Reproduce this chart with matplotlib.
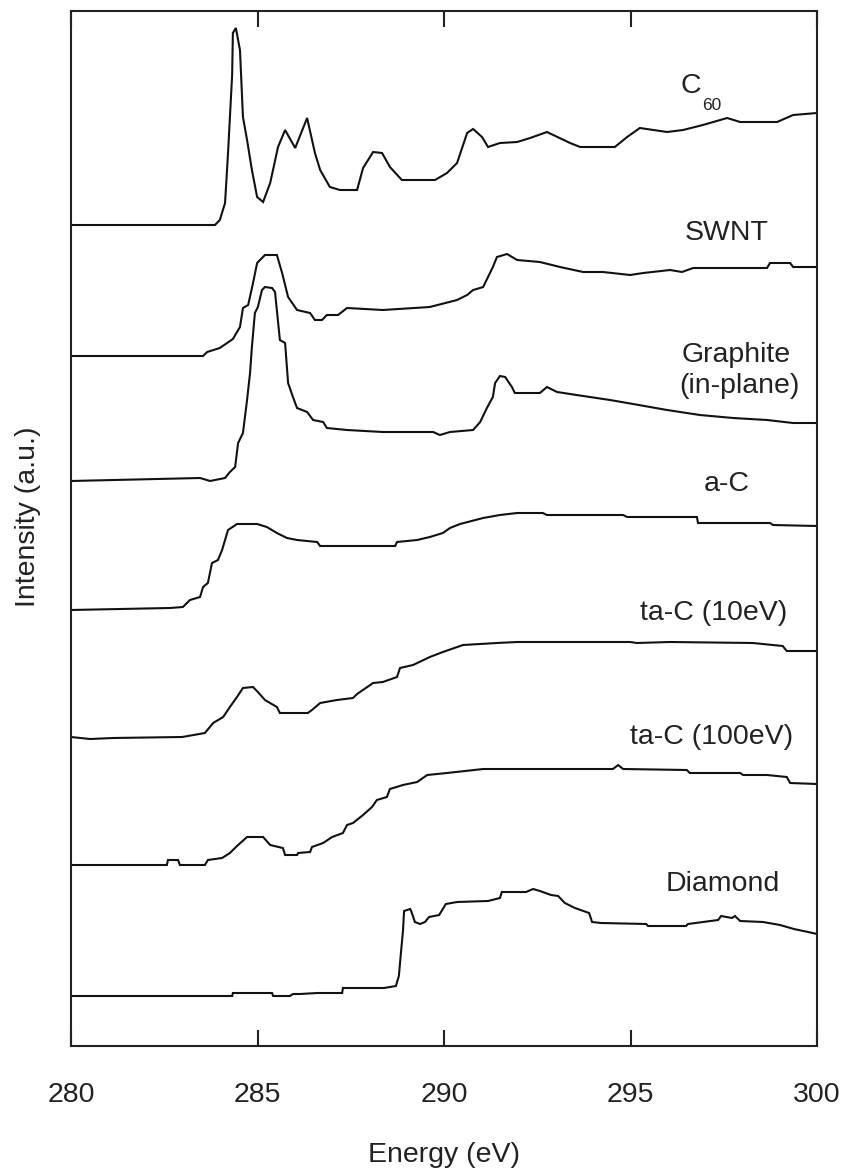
import matplotlib
matplotlib.use("Agg")
import matplotlib.pyplot as plt

plt.rcParams['font.family'] = ['Liberation Sans', 'DejaVu Sans']

# ---------------- data (energy in eV, intensity in a.u.) ----------------
labels = ["C60", "SWNT", "Graphite (in-plane)", "a-C", "ta-C (10eV)", "ta-C (100eV)", "Diamond"]
offsets = [821, 690, 565, 436, 309, 181, 50]

c60_e = [280.00, 283.86, 283.99, 284.13, 284.21, 284.32, 284.34, 284.42, 284.53, 284.61, 284.72,
         284.85, 284.99, 285.15, 285.34, 285.55, 285.74, 286.01, 286.33, 286.54, 286.68, 286.94,
         287.21, 287.67, 287.83, 288.10, 288.34, 288.55, 288.87, 289.76, 290.08, 290.35, 290.62,
         290.78, 291.02, 291.18, 291.50, 291.96, 292.31, 292.76, 293.38, 293.65, 294.58, 294.91,
         295.25, 295.98, 296.41, 296.94, 297.59, 297.94, 298.93, 299.36, 300.00]
c60_i = [0, 0, 5, 22, 72, 150, 192, 197, 175, 108, 85,
         55, 28, 23, 42, 78, 95, 77, 107, 72, 55, 38,
         35, 35, 57, 73, 72, 58, 45, 45, 52, 62, 92,
         96, 88, 78, 82, 83, 87, 93, 82, 78, 78, 88,
         97, 93, 95, 100, 107, 103, 103, 110, 112]

swnt_e = [280.00, 283.54, 283.65, 283.99, 284.34, 284.53, 284.61, 284.75, 284.88, 284.99, 285.20,
          285.52, 285.66, 285.82, 286.06, 286.41, 286.54, 286.73, 286.86, 287.16, 287.40, 288.36,
          289.62, 290.35, 290.62, 290.78, 291.05, 291.18, 291.31, 291.42, 291.69, 291.96, 292.57,
          293.11, 293.73, 294.26, 294.99, 295.34, 296.06, 296.38, 296.68, 298.66, 298.74, 299.28,
          299.36, 300.00]
swnt_i = [0, 0, 4, 8, 17, 29, 48, 51, 73, 93, 101,
          101, 83, 59, 46, 43, 36, 36, 41, 41, 48, 46,
          49, 56, 61, 66, 69, 79, 89, 99, 102, 96, 94,
          89, 84, 84, 81, 83, 86, 84, 88, 88, 93, 93,
          89, 89]

graphite_e = [280.00, 283.46, 283.73, 284.13, 284.26, 284.40, 284.48, 284.61, 284.72, 284.80, 284.85,
              284.93, 285.01, 285.12, 285.20, 285.39, 285.47, 285.60, 285.74, 285.82, 285.95, 286.06,
              286.33, 286.49, 286.76, 286.86, 287.40, 288.36, 289.71, 289.89, 290.16, 290.78, 290.97,
              291.15, 291.31, 291.37, 291.50, 291.64, 291.82, 291.90, 292.57, 292.76, 293.03, 293.73,
              294.45, 295.07, 295.98, 296.86, 297.75, 298.66, 299.36, 300.00]
graphite_i = [0, 3, 0, 3, 9, 14, 38, 48, 81, 108, 134,
              168, 174, 191, 194, 193, 189, 141, 138, 98, 84, 73,
              69, 61, 59, 53, 51, 49, 49, 46, 49, 51, 59,
              73, 84, 98, 105, 104, 94, 88, 88, 94, 89, 85,
              81, 77, 71, 66, 63, 61, 58, 58]

ac_e = [280.00, 282.65, 283.00, 283.19, 283.46, 283.54, 283.67, 283.78, 283.94, 284.05, 284.13,
        284.21, 284.45, 284.99, 285.25, 285.52, 285.79, 286.06, 286.60, 286.68, 288.69, 288.74,
        289.28, 289.62, 289.97, 290.16, 290.43, 291.05, 291.50, 291.96, 292.65, 292.76, 294.80,
        294.91, 296.78, 296.81, 298.74, 298.82, 300.00]
ac_i = [0, 2, 3, 10, 13, 23, 27, 47, 50, 60, 70,
        80, 86, 86, 83, 77, 72, 70, 68, 64, 64, 68,
        70, 73, 77, 82, 86, 92, 95, 97, 97, 95, 95,
        93, 93, 87, 87, 85, 84]

tac10_e = [280.00, 280.51, 281.13, 282.98, 283.59, 283.81, 284.08, 284.26, 284.45, 284.61, 284.88,
           285.01, 285.20, 285.52, 285.60, 286.35, 286.46, 286.68, 287.13, 287.56, 287.67, 288.10,
           288.36, 288.74, 288.82, 289.17, 289.62, 289.97, 290.51, 291.42, 291.96, 293.38, 294.99,
           295.17, 296.06, 298.28, 299.08, 299.19, 300.00]
tac10_i = [0, -2, -1, 0, 4, 14, 20, 30, 40, 49, 50,
           45, 37, 30, 24, 24, 27, 34, 37, 39, 43, 54,
           55, 60, 69, 72, 80, 85, 92, 94, 95, 95, 95,
           94, 95, 94, 91, 86, 86]

tac100_e = [280.00, 282.57, 282.60, 282.87, 282.92, 283.59, 283.67, 284.05, 284.26, 284.45, 284.72,
            285.15, 285.34, 285.68, 285.74, 286.06, 286.09, 286.41, 286.46, 286.76, 287.00, 287.29,
            287.40, 287.56, 287.83, 288.07, 288.20, 288.47, 288.55, 288.90, 289.28, 289.55, 290.08,
            291.05, 294.53, 294.67, 294.80, 296.51, 296.59, 297.94, 298.02, 298.66, 299.19, 299.28,
            300.00]
tac100_i = [0, 0, 5, 5, 0, 0, 5, 7, 12, 19, 28,
            28, 20, 17, 10, 10, 12, 13, 18, 22, 28, 32,
            40, 42, 50, 58, 65, 68, 76, 80, 83, 90, 92,
            96, 96, 100, 96, 95, 92, 92, 90, 90, 88, 82,
            81]

diamond_e = [280.00, 284.32, 284.34, 285.39, 285.42, 285.87, 285.95, 286.14, 286.60, 287.27, 287.29,
             288.39, 288.71, 288.79, 288.85, 288.90, 288.93, 289.09, 289.12, 289.22, 289.36, 289.49,
             289.60, 289.87, 290.05, 290.35, 291.18, 291.50, 291.55, 292.20, 292.39, 292.57, 292.87,
             293.06, 293.24, 293.51, 293.89, 293.97, 294.21, 295.42, 295.47, 296.49, 296.54, 297.35,
             297.43, 297.72, 297.80, 297.94, 298.55, 299.01, 299.38, 299.76, 300.00]
diamond_i = [0, 0, 3, 3, 0, 0, 2, 2, 3, 3, 8,
             8, 10, 20, 45, 65, 85, 87, 85, 74, 72, 74,
             79, 81, 92, 94, 95, 98, 104, 104, 107, 105, 101,
             100, 93, 88, 83, 74, 73, 72, 70, 70, 72, 76,
             80, 78, 80, 75, 74, 71, 67, 64, 62]

energies = [c60_e, swnt_e, graphite_e, ac_e, tac10_e, tac100_e, diamond_e]
intensities = [c60_i, swnt_i, graphite_i, ac_i, tac10_i, tac100_i, diamond_i]

xticks = [280, 285, 290, 295, 300]
xtick_labels = ["280", "285", "290", "295", "300"]

# ---------------- figure ----------------
W, H = 846, 1169
fig = plt.figure(figsize=(W / 100, H / 100), dpi=100)
ax_l, ax_r, ax_t, ax_b = 71, 817, 11, 1046
ax = fig.add_axes([ax_l / W, 1 - ax_b / H, (ax_r - ax_l) / W, (ax_b - ax_t) / H])

line_color = "#111111"
for e, inten, off in zip(energies, intensities, offsets):
    ax.plot(e, [off + v for v in inten], color=line_color, lw=1.5, solid_joinstyle="miter")

ax.set_xlim(280, 300)
ax.set_ylim(0, 1035)
ax.set_xticks(xticks)
ax.set_xticklabels(xtick_labels)
ax.set_yticks([])
ax.tick_params(axis="x", direction="in", length=11.5, width=1.5, top=True, bottom=True,
               labelsize=20.5, pad=26, colors="#222222")
for sp in ax.spines.values():
    sp.set_linewidth(1.5)
    sp.set_color("#222222")

ax.set_xlabel("Energy (eV)", fontsize=20.5, color="#222222", va="center")
ax.xaxis.set_label_coords(0.5, (ax_b - 1155) / (ax_b - ax_t))
ax.set_ylabel("Intensity (a.u.)", fontsize=20.5, color="#222222", va="center", ha="center")
ax.yaxis.set_label_coords((28 - ax_l) / (ax_r - ax_l), (ax_b - 517) / (ax_b - ax_t))

# ---------------- curve labels ----------------
tkw = dict(fontsize=20.5, color="#222222", ha="left", va="baseline")
ax.text(296.33, 953, "C", **tkw)
ax.text(296.92, 936, "60", fontsize=12.5, color="#222222", ha="left", va="baseline")
ax.text(296.46, 806, "SWNT", **tkw)
ax.text(296.38, 684, "Graphite", **tkw)
ax.text(296.30, 653, "(in-plane)", **tkw)
ax.text(296.97, 555, "a-C", **tkw)
ax.text(295.25, 426, "ta-C (10eV)", **tkw)
ax.text(294.99, 302, "ta-C (100eV)", **tkw)
ax.text(295.95, 155, "Diamond", **tkw)

fig.savefig("out.png", dpi=100)
